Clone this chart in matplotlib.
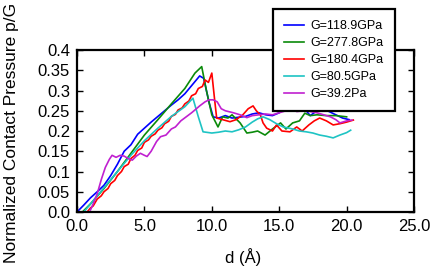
import matplotlib
matplotlib.use("Agg")
import matplotlib.pyplot as plt

plt.rcParams['font.family'] = ['Liberation Sans', 'DejaVu Sans']

# series: d in Angstrom, p/G
labels = ['G=118.9GPa', 'G=277.8GPa', 'G=180.4GPa', 'G=80.5GPa', 'G=39.2Pa']
colors = ['#0000ff', '#0a8a0a', '#ff0000', '#1ec4c4', '#c020d0']

d_blue = [0.0, 0.5, 1.0, 1.5, 2.0, 2.5, 3.0, 3.5, 4.0, 4.5, 5.0, 5.5, 6.0, 6.5,
          7.0, 7.5, 8.0, 8.5, 9.1, 9.4, 9.8, 10.1, 10.5, 11.0, 11.5, 12.0, 12.5,
          13.0, 13.5, 14.0, 14.5, 15.0, 15.5, 16.0, 16.5, 17.0, 17.3, 17.8, 18.2,
          18.7, 19.2, 19.7, 20.2]
p_blue = [0.0, 0.017, 0.035, 0.05, 0.066, 0.09, 0.118, 0.15, 0.166, 0.192, 0.207,
          0.222, 0.236, 0.25, 0.264, 0.277, 0.292, 0.312, 0.336, 0.33, 0.27, 0.235,
          0.232, 0.238, 0.232, 0.234, 0.236, 0.242, 0.245, 0.24, 0.238, 0.245, 0.26,
          0.268, 0.262, 0.25, 0.238, 0.25, 0.256, 0.248, 0.24, 0.232, 0.228]

d_green = [0.4, 1.0, 2.0, 3.0, 4.0, 5.0, 6.0, 7.0, 8.0, 8.75, 9.25, 9.6, 10.0,
           10.46, 10.8, 11.2, 11.5, 11.8, 12.1, 12.6, 13.0, 13.4, 13.95, 14.5, 15.1,
           15.5, 16.0, 16.5, 16.9, 17.3, 17.8, 18.5, 19.2, 20.0]
p_green = [0.0, 0.02, 0.058, 0.1, 0.145, 0.19, 0.228, 0.267, 0.305, 0.343, 0.359,
           0.3, 0.24, 0.21, 0.235, 0.232, 0.24, 0.23, 0.22, 0.195, 0.197, 0.2, 0.19,
           0.205, 0.22, 0.205, 0.22, 0.225, 0.244, 0.238, 0.24, 0.238, 0.238, 0.235]

d_red = [0.75, 1.0, 1.2, 1.5, 1.8, 2.0, 2.3, 2.5, 2.8, 3.0, 3.3, 3.5, 3.8, 4.0,
         4.3, 4.5, 4.8, 5.0, 5.3, 5.5, 5.8, 6.0, 6.3, 6.5, 6.8, 7.0, 7.3, 7.5,
         7.8, 8.0, 8.3, 8.5, 8.8, 9.0, 9.3, 9.5, 9.75, 10.0, 10.2, 10.36, 10.8,
         11.35, 11.8, 12.3, 12.7, 13.06, 13.3, 13.6, 13.8, 14.07, 14.5, 14.8, 15.2,
         15.8, 16.3, 16.7, 17.2, 17.6, 18.0, 18.5, 19.0, 19.5, 20.0, 20.5]
p_red = [0.0, 0.01, 0.015, 0.032, 0.04, 0.05, 0.058, 0.07, 0.078, 0.09, 0.1, 0.112,
         0.118, 0.132, 0.14, 0.152, 0.158, 0.172, 0.178, 0.187, 0.193, 0.202, 0.208,
         0.218, 0.224, 0.236, 0.241, 0.252, 0.257, 0.267, 0.274, 0.287, 0.292, 0.305,
         0.31, 0.326, 0.32, 0.343, 0.28, 0.232, 0.228, 0.223, 0.228, 0.24, 0.255,
         0.262, 0.25, 0.24, 0.22, 0.207, 0.2, 0.215, 0.2, 0.198, 0.21, 0.2, 0.215,
         0.225, 0.232, 0.225, 0.215, 0.218, 0.222, 0.227]

d_cyan = [0.5, 1.0, 1.5, 2.0, 3.0, 4.0, 5.0, 6.0, 7.0, 8.0, 8.6, 9.0, 9.35, 10.0,
          10.5, 11.0, 11.5, 12.0, 12.5, 13.0, 13.4, 13.8, 14.3, 14.8, 15.3, 16.0,
          16.5, 17.0, 17.5, 18.0, 18.5, 19.0, 19.5, 20.0, 20.3]
p_cyan = [0.0, 0.02, 0.04, 0.06, 0.1, 0.14, 0.176, 0.207, 0.236, 0.26, 0.281, 0.235,
          0.198, 0.195, 0.197, 0.2, 0.198, 0.203, 0.21, 0.222, 0.23, 0.235, 0.228,
          0.218, 0.21, 0.205, 0.2, 0.198, 0.195, 0.19, 0.187, 0.183, 0.19, 0.196, 0.202]

d_mag = [1.0, 1.2, 1.5, 1.8, 2.1, 2.4, 2.6, 2.9, 3.2, 3.5, 3.8, 4.1, 4.4, 4.7, 5.0,
         5.2, 5.5, 5.9, 6.2, 6.6, 7.0, 7.3, 7.7, 8.1, 8.5, 8.75, 9.1, 9.5, 9.8, 10.1,
         10.4, 10.7, 11.0, 11.6, 12.1, 12.6, 13.0, 13.5, 14.0, 14.5, 15.0, 15.5, 16.0,
         16.3, 16.8, 17.3, 17.8, 18.3, 18.8, 19.2, 19.5, 20.0, 20.4]
p_mag = [0.005, 0.02, 0.045, 0.08, 0.11, 0.13, 0.14, 0.135, 0.14, 0.138, 0.132, 0.128,
         0.138, 0.145, 0.14, 0.137, 0.15, 0.174, 0.186, 0.19, 0.205, 0.21, 0.225, 0.235,
         0.245, 0.252, 0.262, 0.272, 0.277, 0.277, 0.272, 0.255, 0.25, 0.245, 0.24,
         0.233, 0.238, 0.24, 0.242, 0.24, 0.245, 0.25, 0.255, 0.248, 0.25, 0.248,
         0.245, 0.24, 0.235, 0.228, 0.22, 0.225, 0.227]

xticks = [0, 5, 10, 15, 20, 25]
xticklabels = ['0.0', '5.0', '10.0', '15.0', '20.0', '25.0']
yticks = [0, 0.05, 0.1, 0.15, 0.2, 0.25, 0.3, 0.35, 0.4]
yticklabels = ['0.0', '0.05', '0.1', '0.15', '0.2', '0.25', '0.3', '0.35', '0.4']

fig = plt.figure(figsize=(4.36, 2.70), dpi=100)
ax = fig.add_axes([0.1766, 0.2148, 0.773, 0.6])

series = [(d_blue, p_blue), (d_green, p_green), (d_red, p_red),
          (d_cyan, p_cyan), (d_mag, p_mag)]
for (d, p), lab, c in zip(series, labels, colors):
    ax.plot(d, p, color=c, lw=1.2, label=lab)

ax.set_xlim(0, 25)
ax.set_ylim(0, 0.4)
ax.set_xticks(xticks)
ax.set_xticklabels(xticklabels)
ax.set_yticks(yticks)
ax.set_yticklabels(yticklabels)
ax.tick_params(direction='in', length=4, width=1, labelsize=12, pad=5,
               top=True, right=True, colors='black')
for s in ax.spines.values():
    s.set_linewidth(1.6)

ax.set_xlabel('d (Å)', fontsize=12)
ax.set_ylabel('Normalized Contact Pressure p/G', fontsize=12.5)
ax.xaxis.set_label_coords(0.493, -0.225)
ax.yaxis.set_label_coords(-0.172, 0.49)

leg = ax.legend(loc='upper left', bbox_to_anchor=(0.626, 0.967),
                bbox_transform=fig.transFigure, fontsize=9, frameon=True,
                fancybox=False, borderpad=0.9, labelspacing=0.4,
                handlelength=1.6, handletextpad=0.5, borderaxespad=0)
leg.get_frame().set_edgecolor('black')
leg.get_frame().set_linewidth(1.6)
leg.get_frame().set_alpha(1)
leg.set_zorder(10)

fig.savefig('out.png', dpi=100)
